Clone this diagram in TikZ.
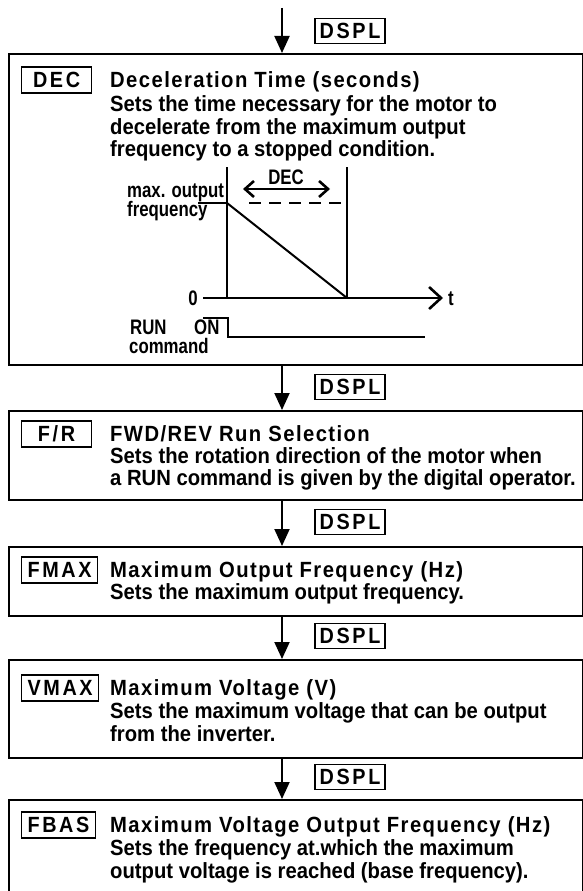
\documentclass[tikz,border=0pt]{standalone}
\usepackage{fontspec}
\setmainfont{Liberation Sans}
\newfontfamily\bodyfont{Liberation Sans}[UprightFont={* Bold}, FakeStretch=0.92]
\newfontfamily\titlefont{Liberation Sans}[UprightFont={* Bold}, FakeStretch=0.92, LetterSpace=6.5]
\newfontfamily\codefont{Liberation Sans}[UprightFont={* Bold}, FakeStretch=0.9, LetterSpace=12]
\newfontfamily\graphfont{Liberation Sans}[UprightFont={* Bold}, FakeStretch=0.8]
\usetikzlibrary{arrows.meta}
\tikzset{
  frame/.style={draw, line width=2.4pt, inner sep=0pt, anchor=north west, minimum width=574pt},
  codebox/.style={draw, line width=1.1pt, anchor=west, minimum width=70pt, minimum height=26pt, inner xsep=6pt, inner ysep=3pt, font=\codefont\fontsize{22}{22}\selectfont},
  dsplbox/.style={draw, line width=1.1pt, minimum width=70pt, minimum height=25pt, inner sep=3pt, font=\codefont\fontsize{22}{22}\selectfont},
  txt/.style={anchor=base west, inner sep=0pt, font=\bodyfont\fontsize{22}{22}\selectfont},
  ttl/.style={anchor=base west, inner sep=0pt, font=\titlefont\fontsize{22}{22}\selectfont},
  gtxt/.style={inner sep=0pt, font=\graphfont\fontsize{21}{21}\selectfont},
  flow/.style={line width=2pt, -{Triangle[length=17pt,width=15pt]}},
  gline/.style={line width=2pt},
  chev/.style={line width=2pt, -{Straight Barb[length=12pt,width=22pt,line width=2.6pt]}},
  dchev/.style={line width=1.6pt, {Straight Barb[length=9pt,width=16pt,line width=2.6pt]}-{Straight Barb[length=9pt,width=16pt,line width=2.6pt]}},
}
\begin{document}
\begin{tikzpicture}[x=1pt,y=-1pt]
\clip (0,0) rectangle (583,891);
\fill[white] (0,0) rectangle (583,891);

% frames
\node[frame, minimum height=311pt] (b1) at (8,53) {};
\node[frame, minimum height=89pt] (b2) at (8,410) {};
\node[frame, minimum height=69pt] (b3) at (8,546) {};
\node[frame, minimum height=98pt] (b4) at (8,659) {};
\node[frame, minimum height=110pt] (b5) at (8,799) {};

% flow arrows
\coordinate (a0) at (282,8);
\draw[flow] (a0) -- (a0 |- b1.north);
\draw[flow] (b1.south -| a0) -- (b2.north -| a0);
\draw[flow] (b2.south -| a0) -- (b3.north -| a0);
\draw[flow] (b3.south -| a0) -- (b4.north -| a0);
\draw[flow] (b4.south -| a0) -- (b5.north -| a0);

% DSPL keys
\node[dsplbox] (d1) at (350,31) {DSPL};
\node[dsplbox] (d2) at (350,387) {DSPL};
\node[dsplbox] (d3) at (350,522) {DSPL};
\node[dsplbox] (d4) at (350,636) {DSPL};
\node[dsplbox] (d5) at (350,777) {DSPL};

% codes
\node[codebox] (c1) at (21,80) {DEC};
\node[codebox] (c2) at (21,434) {F/R};
\node[codebox] (c3) at (21,570) {FMAX};
\node[codebox] (c4) at (21,688) {VMAX};
\node[codebox] (c5) at (21,825) {FBAS};

% box 1 text
\node[ttl] (h1) at (110,88) {Deceleration Time (seconds)};
\node[txt] (l1a) at (110,111) {Sets the time necessary for the motor to};
\node[txt] (l1b) at (110,134) {decelerate from the maximum output};
\node[txt] (l1c) at (110,156) {frequency to a stopped condition.};

% graph
\node[gtxt, anchor=base west] (mo) at (127,197) {max. output};
\node[gtxt, anchor=base west] (fq) at (127,216) {frequency};
\coordinate (v1t) at (227,167);
\coordinate (v1b) at (227,298);
\coordinate (v2t) at (347,167);
\coordinate (v2b) at (347,298);
\draw[gline] (v1t) -- (v1b);
\draw[gline] (v2t) -- (v2b);
\coordinate (fs) at (198,203);
\coordinate (fm) at (227,203);
\coordinate (fd) at (249,203);
\coordinate (fe) at (347,203);
\draw[gline] (fs) -- (fm);
\draw[gline, dash pattern=on 12pt off 8pt] (fd) -- (fe);
\draw[gline] (fm) -- (v2b);
\coordinate (da) at (243,189);
\coordinate (db) at (330,189);
\draw[dchev] (da) -- (db);
\node[gtxt] (dl) at (286,177) {DEC};
\node[gtxt, anchor=base east] (zero) at (198,305.5) {0};
\node[gtxt, anchor=base west] (tl) at (448,305.5) {t};
\coordinate (ax0) at (203,298);
\coordinate (ax1) at (443,298);
\draw[chev] (ax0) -- (ax1);
\node[gtxt, anchor=base west] (run) at (130,334) {RUN};
\node[gtxt, anchor=base west] (on) at (194,334) {ON};
\node[gtxt, anchor=base west] (cmd) at (129,353) {command};
\coordinate (s0) at (203,318);
\coordinate (s1) at (228,318);
\coordinate (s2) at (228,337);
\coordinate (s3) at (425,337);
\draw[line width=1.6pt] (s0) -- (s1) -- (s2) -- (s3);

% box 2 text
\node[ttl] (h2) at (110,441) {FWD/REV Run Selection};
\node[txt] (l2a) at (110,463) {Sets the rotation direction of the motor when};
\node[txt] (l2b) at (110,485) {a RUN command is given by the digital operator.};

% box 3 text
\node[ttl] (h3) at (110,577) {Maximum Output Frequency (Hz)};
\node[txt] (l3a) at (110,599) {Sets the maximum output frequency.};

% box 4 text
\node[ttl] (h4) at (110,695) {Maximum Voltage (V)};
\node[txt] (l4a) at (110,718) {Sets the maximum voltage that can be output};
\node[txt] (l4b) at (110,741) {from the inverter.};

% box 5 text
\node[ttl] (h5) at (110,832) {Maximum Voltage Output Frequency (Hz)};
\node[txt] (l5a) at (110,855) {Sets the frequency at.which the maximum};
\node[txt] (l5b) at (110,878) {output voltage is reached (base frequency).};
\end{tikzpicture}
\end{document}
